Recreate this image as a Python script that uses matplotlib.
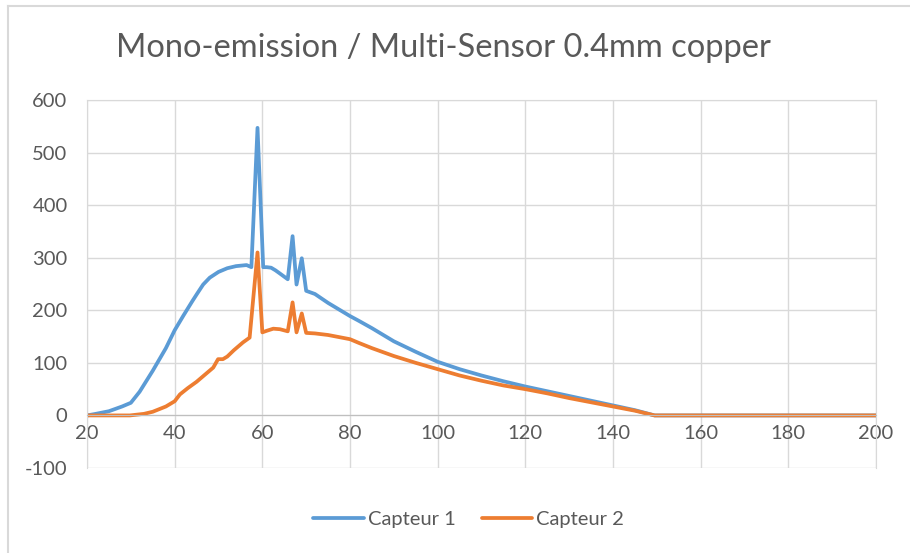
import numpy as np
import matplotlib.pyplot as plt
from matplotlib.lines import Line2D

plt.rcParams['font.family'] = ['Lato', 'DejaVu Sans']
plt.rcParams['axes.unicode_minus'] = False

# sensor readings vs. energy
x1 = [20, 22, 25, 28, 30, 32, 35, 38, 40, 42, 44, 45, 46.5, 48, 50, 52, 54, 56.4, 57.5,
      58.9, 60.2, 61, 62, 63, 64, 65.8, 66.9, 67.8, 69, 70, 72, 75, 80, 82, 85, 90,
      95, 100, 105, 110, 115, 120, 125, 130, 135, 140, 145, 149.5, 160, 180, 200]
capteur1 = [0, 3, 8, 17, 24, 45, 85, 128, 162, 190, 217, 230, 249, 262, 273, 280, 284, 286, 282,
            547, 282, 282, 281, 276, 270, 259, 341, 249, 299, 237, 231, 214, 189, 180, 166, 141,
            121, 102, 88, 76, 65, 55, 46, 37, 28, 19, 10, 0, 0, 0, 0]

x2 = [20, 25, 29.8, 33, 35, 38, 40, 41.2, 43, 45, 48.8, 49.9, 51, 52, 53.5, 55.6, 57.1,
      58.9, 60, 61, 62.5, 64, 65.8, 66.9, 67.8, 69, 70, 72, 75, 80, 82, 85, 90, 95, 100,
      105, 110, 115, 120, 125, 130, 135, 140, 145, 149.5, 160, 180, 200]
capteur2 = [0, 0, 0, 3, 7, 17, 27, 40, 52, 64, 91, 107, 107, 112, 124, 139, 148,
            310, 158, 161, 165, 164, 160, 215, 158, 194, 157, 156, 153, 145, 138, 128, 113, 100, 88,
            76, 66, 57, 50, 42, 33, 25, 17, 9, 0, 0, 0, 0]

xticks = list(range(20, 201, 20))
yticks = list(range(-100, 601, 100))

txt = '#595959'
grid = '#d9d9d9'

fig = plt.figure(figsize=(9.1, 5.53), dpi=100)
ax = fig.add_axes([87 / 910, 1 - 468 / 553, (876 - 87) / 910, (468 - 100) / 553])

ax.plot(x1, capteur1, color='#5B9BD5', lw=2.7, label='Capteur 1',
        solid_joinstyle='round', solid_capstyle='round')
ax.plot(x2, capteur2, color='#ED7D31', lw=2.7, label='Capteur 2',
        solid_joinstyle='round', solid_capstyle='round')

ax.set_xlim(20, 200)
ax.set_ylim(-100, 600)
ax.set_xticks(xticks)
ax.set_yticks(yticks)
ax.grid(True, color=grid, lw=1)
ax.set_axisbelow(True)

for s in ['left', 'right', 'top']:
    ax.spines[s].set_color(grid)
ax.spines['bottom'].set_position(('data', 0))
ax.spines['bottom'].set_color('#bfbfbf')
ax.tick_params(length=0, labelsize=14.5, labelcolor=txt)
ax.tick_params(axis='y', pad=14)
ax.tick_params(axis='x', pad=7)

fig.text(0.487, 0.913, 'Mono-emission / Multi-Sensor 0.4mm copper', ha='center', va='center',
         fontsize=23.5, color=txt)

leg = fig.legend(loc='center', bbox_to_anchor=(0.515, 0.061), ncol=2, frameon=False,
                 fontsize=14.5, handlelength=2.5, columnspacing=1.3, handletextpad=0.2)
for t in leg.get_texts():
    t.set_color(txt)

# outer chart frame
fig.add_artist(Line2D([8 / 910, 8 / 910], [0, 1 - 6 / 553], transform=fig.transFigure, color=grid, lw=1.5))
fig.add_artist(Line2D([8 / 910, 1], [1 - 6 / 553, 1 - 6 / 553], transform=fig.transFigure, color=grid, lw=1.5))

fig.savefig('out.png', dpi=100)
